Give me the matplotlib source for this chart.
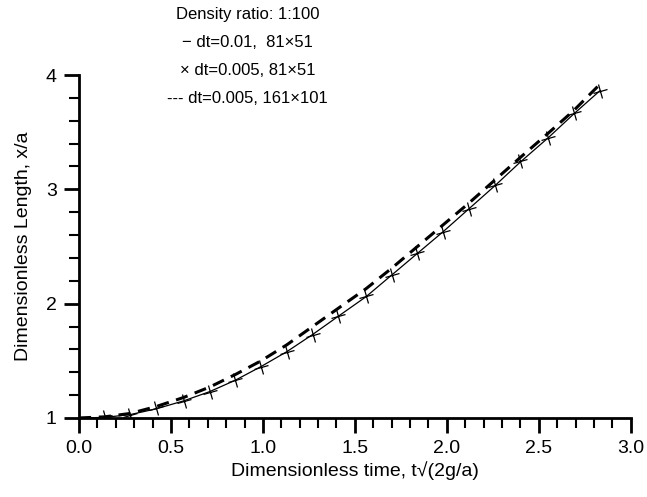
import numpy as np
import matplotlib
matplotlib.use('Agg')
import matplotlib.pyplot as plt
from matplotlib.markers import MarkerStyle
from matplotlib.transforms import Affine2D
from matplotlib.ticker import MultipleLocator, FormatStrFormatter

plt.rcParams['font.family'] = ['Liberation Sans', 'DejaVu Sans']

# dt=0.01, 81x51 (solid line)
t_coarse = [0.0, 0.14, 0.28, 0.42, 0.57, 0.71, 0.85, 0.99, 1.13, 1.27, 1.41,
            1.56, 1.70, 1.84, 1.98, 2.12, 2.26, 2.40, 2.55, 2.69, 2.83]
x_coarse = [1.0, 1.005, 1.03, 1.08, 1.15, 1.23, 1.33, 1.45, 1.58, 1.73, 1.89,
            2.06, 2.25, 2.44, 2.63, 2.83, 3.03, 3.24, 3.45, 3.66, 3.86]

# dt=0.005, 81x51 (markers)
t_fine_dt = [0.14, 0.28, 0.42, 0.57, 0.71, 0.85, 0.99, 1.13, 1.27, 1.41,
             1.56, 1.70, 1.84, 1.98, 2.12, 2.26, 2.40, 2.55, 2.69, 2.83]
x_fine_dt = [1.005, 1.03, 1.085, 1.15, 1.23, 1.33, 1.45, 1.58, 1.73, 1.89,
             2.07, 2.25, 2.44, 2.63, 2.83, 3.04, 3.25, 3.45, 3.67, 3.86]

# dt=0.005, 161x101 (dashed)
t_fine_grid = [0.0, 0.14, 0.28, 0.42, 0.57, 0.71, 0.85, 0.99, 1.13, 1.27, 1.41,
               1.56, 1.70, 1.84, 1.98, 2.12, 2.26, 2.40, 2.55, 2.69, 2.82]
x_fine_grid = [1.0, 1.01, 1.04, 1.10, 1.18, 1.27, 1.38, 1.50, 1.64, 1.80, 1.96,
               2.13, 2.31, 2.50, 2.69, 2.88, 3.08, 3.28, 3.49, 3.69, 3.90]

legend_lines = ['Density ratio: 1:100',
                '\u2212 dt=0.01,  81\u00d751',
                '\u00d7 dt=0.005, 81\u00d751',
                '--- dt=0.005, 161\u00d7101']

fig = plt.figure(figsize=(6.47, 4.97), dpi=100)
ax = fig.add_axes([0.122, 0.159, 0.853, 0.69])

ax.plot(t_coarse, x_coarse, color='black', lw=0.9)
mk = MarkerStyle('+', transform=Affine2D().rotate_deg(15))
ax.plot(t_fine_dt, x_fine_dt, ls='none', marker=mk, ms=10, mew=0.9, color='black')
ax.plot(t_fine_grid, x_fine_grid, color='black', lw=2.2, ls=(0, (4, 2.5)))

ax.set_xlim(0, 3.0)
ax.set_ylim(1, 4)
ax.xaxis.set_major_locator(MultipleLocator(0.5))
ax.xaxis.set_minor_locator(MultipleLocator(0.1))
ax.yaxis.set_major_locator(MultipleLocator(1))
ax.yaxis.set_minor_locator(MultipleLocator(0.2))
ax.xaxis.set_major_formatter(FormatStrFormatter('%.1f'))

for s in ['top', 'right']:
    ax.spines[s].set_visible(False)
for s in ['left', 'bottom']:
    ax.spines[s].set_linewidth(2)
ax.tick_params(which='major', length=11, width=2, labelsize=14, pad=5)
ax.tick_params(which='minor', length=7, width=1.5)

ax.set_xlabel('Dimensionless time, t\u221a(2g/a)', fontsize=14, labelpad=3)
ax.set_ylabel('Dimensionless Length, x/a', fontsize=14, labelpad=10)

# legend block drawn as plain centred text lines, as in the original
y0 = 0.970
for i, line in enumerate(legend_lines):
    fig.text(0.383, y0 - i * 0.0563, line, ha='center', va='center', fontsize=12)

fig.savefig('out.png', dpi=100)
